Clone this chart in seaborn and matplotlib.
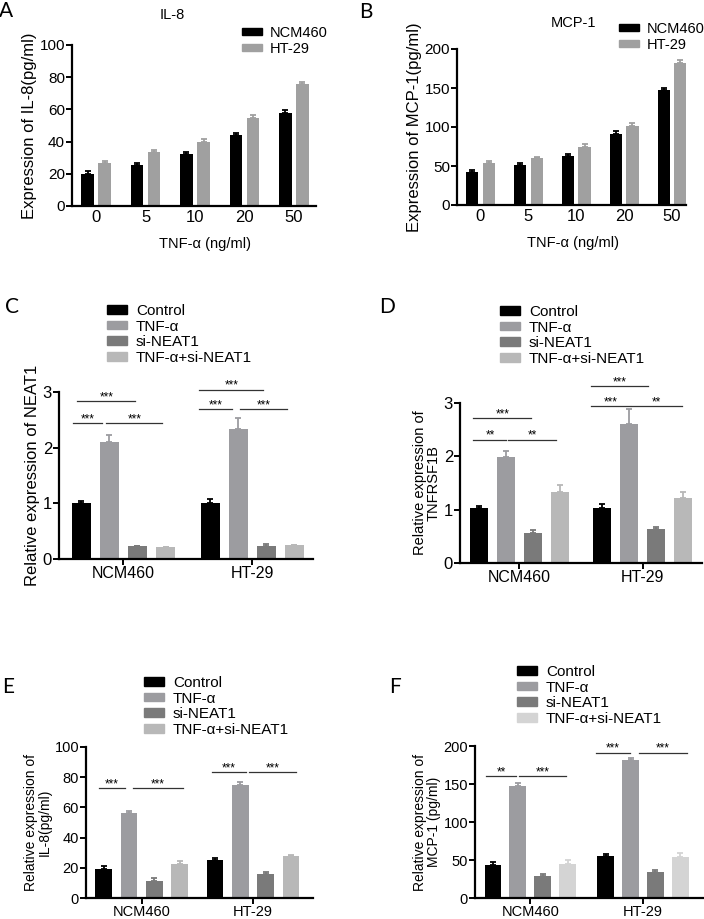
import numpy as np
import pandas as pd
import seaborn as sns
import matplotlib
matplotlib.use("Agg")
import matplotlib.pyplot as plt
from matplotlib.patches import Patch

# data
doses = ["0", "5", "10", "20", "50"]
lines_ab = ["NCM460", "HT-29"]
il8_ncm = [20, 25.5, 32, 44, 58]
il8_ht = [26.5, 33.5, 40, 54.5, 75.5]
il8_ncm_err = [1.5, 1.2, 1.3, 1.5, 1.4]
il8_ht_err = [1.3, 1.3, 1.5, 1.8, 1.8]
mcp_ncm = [42, 51, 63, 91, 147]
mcp_ht = [54, 60, 75, 101, 182]
mcp_ncm_err = [3.5, 2.5, 2.5, 4, 3.5]
mcp_ht_err = [3, 2, 3.5, 4, 4]

groups = ["NCM460", "HT-29"]
conds = ["Control", "TNF-α", "si-NEAT1", "TNF-α+si-NEAT1"]
neat1 = [[1.0, 2.1, 0.23, 0.21], [1.01, 2.33, 0.24, 0.25]]
neat1_err = [[0.04, 0.12, 0.01, 0.01], [0.06, 0.21, 0.03, 0.01]]
tnfrsf = [[1.03, 1.98, 0.57, 1.33], [1.03, 2.6, 0.64, 1.22]]
tnfrsf_err = [[0.04, 0.12, 0.04, 0.13], [0.07, 0.28, 0.04, 0.12]]
il8_si = [[19.5, 56.5, 11.5, 22.5], [25, 75, 16, 27.5]]
il8_si_err = [[1.5, 1.3, 1.8, 2.0], [1.3, 1.5, 1.2, 1.3]]
mcp_si = [[43, 148, 29, 45], [55, 182, 34, 54]]
mcp_si_err = [[4, 3, 3, 5], [3, 2.5, 3, 5]]

plt.rcParams["font.family"] = ["Liberation Sans", "DejaVu Sans"]
W, H = 704, 919
fig = plt.figure(figsize=(W / 100, H / 100), dpi=100)


def rect(l, r, top, bottom):
    return [l / W, 1 - bottom / H, (r - l) / W, (bottom - top) / H]


def style(ax, ysize, xsize):
    sns.despine(ax=ax)
    for s in ["left", "bottom"]:
        ax.spines[s].set_linewidth(1.6)
    ax.tick_params(direction="out", length=4, width=1.4, pad=1)
    ax.tick_params(axis="y", labelsize=ysize)
    ax.tick_params(axis="x", labelsize=xsize)
    ax.set_xlabel("")


def add_err(ax, errs, colors):
    for cont, err, c in zip(ax.containers, errs, colors):
        xs = [b.get_x() + b.get_width() / 2 for b in cont]
        ys = [b.get_height() for b in cont]
        ax.errorbar(xs, ys, yerr=[np.zeros(len(err)), err], fmt="none",
                    ecolor=c, elinewidth=1.3, capsize=2.5, capthick=1.3)


def sig(ax, x1, x2, y, txt):
    ax.plot([x1, x2], [y, y], color="#333333", lw=0.9, clip_on=False)
    ax.annotate(txt, xy=((x1 + x2) / 2, y), xytext=(0, -1.5), textcoords="offset points",
                ha="center", va="bottom", fontsize=8.5, annotation_clip=False)


# panels A and B
ab_cols = ["#000000", "#a0a0a0"]
for box, a, b, ea, eb, ylim, yt, ylab in [
        ((72, 316, 45, 206), il8_ncm, il8_ht, il8_ncm_err, il8_ht_err,
         100, np.arange(0, 101, 20), "Expression of IL-8(pg/ml)"),
        ((457, 686, 49, 205), mcp_ncm, mcp_ht, mcp_ncm_err, mcp_ht_err,
         200, np.arange(0, 201, 50), "Expression of MCP-1(pg/ml)")]:
    ax = fig.add_axes(rect(*box))
    df = pd.DataFrame({"dose": doses * 2, "line": [lines_ab[0]] * 5 + [lines_ab[1]] * 5,
                       "value": a + b})
    sns.barplot(data=df, x="dose", y="value", hue="line", order=doses,
                hue_order=lines_ab, palette=ab_cols, width=0.69, gap=0.26,
                saturation=1, errorbar=None, legend=False, ax=ax)
    add_err(ax, [ea, eb], ab_cols)
    ax.set_ylim(0, ylim)
    ax.set_yticks(yt)
    ax.set_xlim(-0.49, 4.45 if ylim == 100 else 4.29)
    style(ax, 11, 12)
    ax.tick_params(axis="x", length=0, pad=3)
    ax.set_ylabel(ylab, fontsize=12, labelpad=2)

fig.text(172 / W, 1 - 15 / H, "IL-8", ha="center", va="center", fontsize=10.5)
fig.text(574 / W, 1 - 23 / H, "MCP-1", ha="center", va="center", fontsize=10.5)
fig.text(205 / W, 1 - 244 / H, "TNF-α (ng/ml)", ha="center", va="center", fontsize=10.5)
fig.text(573 / W, 1 - 243 / H, "TNF-α (ng/ml)", ha="center", va="center", fontsize=10.5)
for x0, y0 in [(242, 41), (619, 37)]:
    h = [Patch(color=c) for c in ab_cols]
    fig.legend(h, lines_ab, loc="center left", bbox_to_anchor=(x0 / W, 1 - y0 / H),
               frameon=False, fontsize=10.5, handlelength=1.4, handleheight=0.35,
               handletextpad=0.5, labelspacing=0.15, borderpad=0, borderaxespad=0)

# panels C - F
panels = [
    ((59, 313, 392, 559), neat1, neat1_err, 3, [0, 1, 2, 3], "Relative expression of NEAT1", 12,
     (-0.5, 1.47), 0.87, 0.32, "#b8b8b8",
     [(-0.357, 0.093, 2.84, "***"), (-0.388, -0.163, 2.44, "***"), (-0.132, 0.302, 2.44, "***"),
      (0.589, 1.085, 3.04, "***"), (0.589, 0.845, 2.69, "***"), (0.907, 1.271, 2.69, "***")],
     (107, 312), 12, 11.5),
    ((460, 702, 403, 563), tnfrsf, tnfrsf_err, 3, [0, 1, 2, 3], "Relative expression of\nTNFRSF1B", 10.5,
     (-0.48, 1.48), 0.87, 0.33, "#b8b8b8",
     [(-0.371, 0.097, 2.72, "***"), (-0.371, -0.105, 2.31, "**"), (-0.089, 0.298, 2.31, "**"),
      (0.581, 1.04, 3.32, "***"), (0.581, 0.895, 2.94, "***"), (0.903, 1.315, 2.94, "**")],
     (500, 313), 12, 11.5),
    ((86, 313, 747, 898), il8_si, il8_si_err, 100, np.arange(0, 101, 20),
     "Relative expression of\nIL-8(pg/ml)", 10,
     (-0.5, 1.54), 0.91, 0.34, "#b8b8b8",
     [(-0.387, -0.153, 72.8, "***"), (-0.081, 0.369, 72.8, "***"),
      (0.631, 0.937, 83.4, "***"), (0.964, 1.387, 83.4, "***")],
     (144, 684), 10.5, 10.5),
    ((475, 704, 746, 898), mcp_si, mcp_si_err, 200, np.arange(0, 201, 50),
     "Relative expression of\nMCP-1 (pg/ml)", 10,
     (-0.49, 1.54), 0.88, 0.32, "#d4d4d4",
     [(-0.389, -0.124, 160, "**"), (-0.097, 0.319, 160, "***"),
      (0.584, 0.885, 191, "***"), (0.965, 1.389, 191, "***")],
     (517, 673), 10.5, 10.5),
]

for box, vals, errs, ymax, yt, ylab, ylsize, xl, wd, gp, lastc, sigs, lg, ysz, xsz in panels:
    cols = ["#000000", "#9c9ca0", "#7a7a7a", lastc]
    ax = fig.add_axes(rect(*box))
    df = pd.DataFrame({"group": [g for g in groups for _ in conds],
                       "cond": conds * 2,
                       "value": vals[0] + vals[1]})
    sns.barplot(data=df, x="group", y="value", hue="cond", order=groups,
                hue_order=conds, palette=cols, width=wd, gap=gp, saturation=1,
                errorbar=None, legend=False, ax=ax)
    add_err(ax, [[errs[0][i], errs[1][i]] for i in range(4)], cols)
    ax.set_ylim(0, ymax)
    ax.set_yticks(yt)
    ax.set_xlim(*xl)
    style(ax, ysz, xsz)
    ax.set_ylabel(ylab, fontsize=ylsize, labelpad=2, linespacing=1.0)
    for x1, x2, y, t in sigs:
        sig(ax, x1, x2, y, t)
    h = [Patch(color=c) for c in cols]
    fig.legend(h, conds, loc="upper left", bbox_to_anchor=(lg[0] / W, 1 - (lg[1] - 8) / H),
               frameon=False, fontsize=11, handlelength=1.3, handleheight=0.5,
               handletextpad=0.6, labelspacing=0.1, borderpad=0, borderaxespad=0)

for t, x, y in [("A", 6, 11), ("B", 366, 12), ("C", 12, 307), ("D", 387, 307),
                ("E", 8, 687), ("F", 395, 687)]:
    fig.text(x / W, 1 - y / H, t, ha="center", va="center", fontsize=15,
             family=["Lato", "DejaVu Sans"])

fig.savefig("out.png", dpi=100)
